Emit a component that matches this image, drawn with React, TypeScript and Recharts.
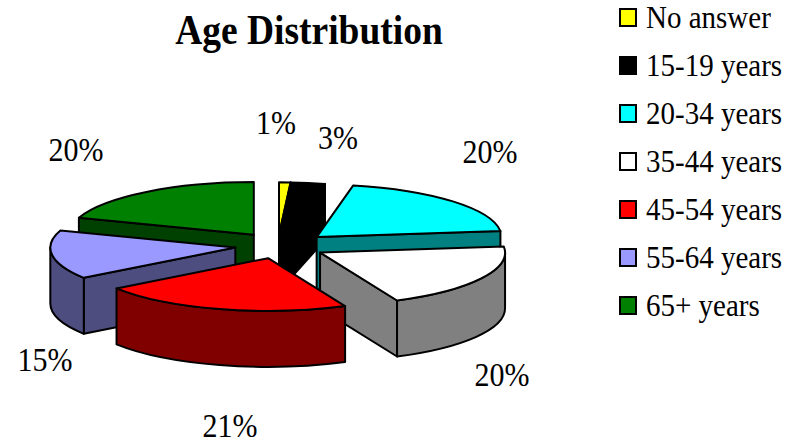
import React from 'react';
import { PieChart, Pie, Legend } from 'recharts';

const categories = ['No answer', '15-19 years', '20-34 years', '35-44 years', '45-54 years', '55-64 years', '65+ years'];
const shares = [1, 3, 20, 20, 21, 15, 20];
const tops = ['#ffff00', '#000000', '#00ffff', '#ffffff', '#ff0000', '#9999ff', '#008000'];
const walls = ['#808000', '#000000', '#008080', '#808080', '#800000', '#4d4d80', '#004000'];

// painter's order: back slices first so the front ones overlap them
const drawOrder = [6, 0, 1, 2, 5, 3, 4];

// data label centres, the old chart placed these by hand
const labelSpots = [
  [276, 123],
  [338, 138],
  [490, 152],
  [502, 375],
  [230, 426],
  [45, 360],
  [76, 150],
];

const data = categories.map((name, i) => ({ name, value: shares[i] }));

const WIDTH = 800;
const HEIGHT = 438;
const CX = 281;
const CY = 245.5;
const RX = 185;
const TILT = 0.285;
const DEPTH = 56;
const PULL = 0.25;
const FONT = '"Liberation Serif", "Times New Roman", serif';
const TEXT_STRETCH = 1.12;

const rad = (deg: number) => (deg * Math.PI) / 180;

// the 3D view of the source skews the big slices by a few degrees
const viewAngle = (a: number) => {
  const s = Math.sin(rad(a));
  return s > 0 ? a - 3 * Math.min(1, s * 4) : a + 1 * Math.min(1, -s * 4);
};

const SliceShape = (props: any) => {
  const { cx, cy, outerRadius, startAngle, endAngle, name } = props;
  const idx = categories.indexOf(name);
  const small = idx < 2;
  // clockwise from twelve o'clock is easier to reason about here
  const rawFrom = 90 - startAngle;
  const rawTo = 90 - endAngle;
  const a0 = small ? rawFrom : viewAngle(rawFrom);
  const a1 = small ? rawTo : viewAngle(rawTo);
  const mid = (rawFrom + rawTo) / 2;
  const ry = outerRadius * TILT;

  // the two thin slices barely come out of the pie
  const ox = small ? -2 : outerRadius * PULL * Math.sin(rad(mid));
  const oy = small ? -10.5 : -ry * PULL * Math.cos(rad(mid));

  const px = (a: number) => cx + ox + outerRadius * Math.sin(rad(a));
  const py = (a: number) => cy + oy - ry * Math.cos(rad(a));
  const ax = cx + ox;
  const ay = cy + oy;

  const radialWall = (a: number) =>
    `M${ax},${ay} L${px(a)},${py(a)} L${px(a)},${py(a) + DEPTH} L${ax},${ay + DEPTH} Z`;

  const from = Math.max(a0, 90);
  const to = Math.min(a1, 270);
  const hasArcWall = to > from;
  const arcWall =
    `M${px(from)},${py(from)} A${outerRadius},${ry} 0 0 1 ${px(to)},${py(to)} ` +
    `L${px(to)},${py(to) + DEPTH} A${outerRadius},${ry} 0 0 0 ${px(from)},${py(from) + DEPTH} Z`;

  const large = a1 - a0 > 180 ? 1 : 0;
  const top = `M${ax},${ay} L${px(a0)},${py(a0)} A${outerRadius},${ry} 0 ${large} 1 ${px(a1)},${py(a1)} Z`;

  const line = { stroke: '#000', strokeWidth: 2, strokeLinejoin: 'round' as const };
  return (
    <g>
      {Math.sin(rad(a0)) < 0 && <path d={radialWall(a0)} fill={walls[idx]} {...line} />}
      {Math.sin(rad(a1)) > 0.001 && <path d={radialWall(a1)} fill={walls[idx]} {...line} />}
      {hasArcWall && <path d={arcWall} fill={walls[idx]} {...line} />}
      <path d={top} fill={tops[idx]} {...line} />
    </g>
  );
};

const renderLabel = (props: any) => {
  const idx = categories.indexOf(props.name);
  const [x, y] = labelSpots[idx];
  return (
    <text
      key={props.name}
      transform={`translate(${x} ${y + 11}) scale(1 ${TEXT_STRETCH})`}
      textAnchor="middle"
      fontFamily={FONT}
      fontSize={30}
      fill="#000"
    >
      {shares[idx]}%
    </text>
  );
};

const LegendBox = () => (
  <div style={{ position: 'relative', width: WIDTH, height: HEIGHT, fontFamily: FONT, fontSize: 29, color: '#000' }}>
    {categories.map((name, i) => (
      <div key={name} style={{ position: 'absolute', left: 619, top: 17 + i * 48 - 24, height: 48, display: 'flex', alignItems: 'center' }}>
        <span style={{ width: 14, height: 15, background: tops[i], border: '2px solid #000', marginRight: 9 }} />
        <span style={{ whiteSpace: 'nowrap', display: 'inline-block', transform: `scaleY(${TEXT_STRETCH})` }}>{name}</span>
      </div>
    ))}
  </div>
);

export default function App() {
  return (
    <div style={{ position: 'absolute', left: 0, top: 0, width: WIDTH, height: HEIGHT, background: '#fff' }}>
      <PieChart width={WIDTH} height={HEIGHT} margin={{ top: 0, right: 0, bottom: 0, left: 0 }}>
        {drawOrder.map((sliceIdx, n) => (
          <Pie
            key={categories[sliceIdx]}
            data={data}
            dataKey="value"
            nameKey="name"
            cx={CX}
            cy={CY}
            outerRadius={RX}
            startAngle={90}
            endAngle={-270}
            isAnimationActive={false}
            labelLine={false}
            label={n === drawOrder.length - 1 ? renderLabel : false}
            shape={(p: any) => (p.name === categories[sliceIdx] ? <SliceShape {...p} /> : <g />)}
          />
        ))}
        <text
          transform={`translate(309 44) scale(1 ${TEXT_STRETCH})`}
          textAnchor="middle"
          fontFamily={FONT}
          fontSize={37.5}
          fontWeight="bold"
          fill="#000"
        >
          Age Distribution
        </text>
        <Legend
          content={<LegendBox />}
          wrapperStyle={{ position: 'absolute', left: 0, top: 0, bottom: 'auto', width: WIDTH, height: HEIGHT, pointerEvents: 'none' }}
        />
      </PieChart>
    </div>
  );
}
